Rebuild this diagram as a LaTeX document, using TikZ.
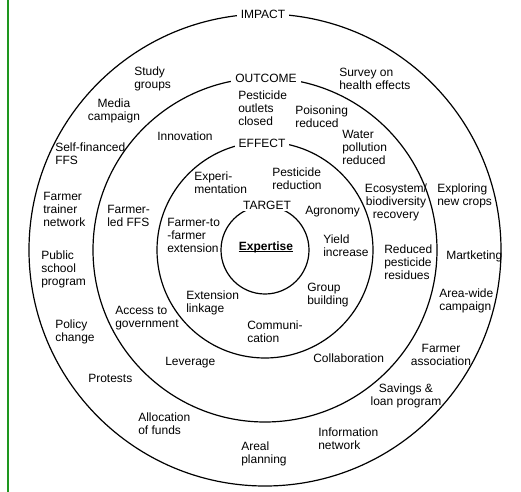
\documentclass[tikz,border=0pt]{standalone}
\usepackage{fontspec}
\setmainfont{Liberation Sans}
\usepackage{tikz}
\definecolor{barcol}{RGB}{30,150,30}

\begin{document}
\begin{tikzpicture}[x=0.75pt,y=-0.75pt,
  every node/.style={font=\fontsize{9}{9.75}\selectfont},
  ring/.style={line width=0.9pt},
  lvl/.style={fill=white,inner xsep=3pt,inner ysep=1pt},
  txt/.style={align=left,anchor=west,inner sep=0pt},
  ctxt/.style={align=center,inner sep=0pt}]
\useasboundingbox (0,0) rectangle (521,492);
\draw[line width=1.5pt,barcol] (8,0) -- (8,492);
\coordinate (c) at (265,250);
\draw[ring] (c) circle[radius=177pt];
\draw[ring] (c) circle[radius=129pt];
\draw[ring] (c) circle[radius=81pt];
\draw[ring] (c) circle[radius=33pt];
\node[lvl] (impact) at (263,14) {IMPACT};
\node[lvl] (outcome) at (266,78) {OUTCOME};
\node[lvl] (effect) at (262,143) {EFFECT};
\node[lvl] (target) at (267,205) {TARGET};
\node[inner sep=0pt] (expertise) at (266,247) {\textbf{Expertise}};
\draw[line width=0.7pt] ([yshift=-1.3pt]expertise.base west) -- ([yshift=-1.3pt]expertise.base east);

\node[txt] (study) at (134,79) {Study\\groups};
\node[ctxt] (media) at (114,110.5) {Media\\campaign};
\node[txt] (selffin) at (55,154) {Self-financed\\FFS};
\node[txt] (trainer) at (43,209) {Farmer\\trainer\\network};
\node[txt] (school) at (41,269) {Public\\school\\program};
\node[txt] (policy) at (55,331.5) {Policy\\change};
\node[txt] (protests) at (88,378) {Protests};
\node[txt] (alloc) at (138,423.5) {Allocation\\of funds};
\node[txt] (areal) at (241,453.5) {Areal\\planning};
\node[txt] (info) at (318,438.5) {Information\\network};
\node[ctxt] (savings) at (406,396) {Savings \&\\loan program};
\node[ctxt] (assoc) at (441,354.5) {Farmer\\association};
\node[txt] (areawide) at (439,301) {Area-wide\\campaign};
\node[txt] (market) at (446,256) {Martketing};
\node[txt] (explore) at (437,196) {Exploring\\new crops};
\node[txt] (survey) at (339,78.5) {Survey on\\health effects};

\node[txt] (outlets) at (238,108) {Pesticide\\outlets\\closed};
\node[txt] (poison) at (295,117) {Poisoning\\reduced};
\node[txt] (water) at (342,147) {Water\\pollution\\reduced};
\node[ctxt] (eco) at (396,202) {Ecosystem/\\biodiversity\\recovery};
\node[txt] (residues) at (384,262) {Reduced\\pesticide\\residues};
\node[txt] (collab) at (313,358) {Collaboration};
\node[txt] (leverage) at (165,363) {Leverage};
\node[txt] (access) at (115,318.5) {Access to\\government};
\node[txt] (ledffs) at (107,216) {Farmer-\\led FFS};
\node[txt] (innov) at (157,136) {Innovation};

\node[txt] (experi) at (194,183) {Experi-\\mentation};
\node[txt] (pestred) at (272,179) {Pesticide\\reduction};
\node[txt] (agro) at (305,212) {Agronomy};
\node[txt] (yield) at (323,246) {Yield\\increase};
\node[txt] (group) at (307,295.5) {Group\\building};
\node[txt] (commun) at (247,332) {Communi-\\cation};
\node[txt] (extlink) at (186,302.5) {Extension\\linkage};
\node[txt] (ftof) at (167,235) {Farmer-to\\-farmer\\extension};
\end{tikzpicture}
\end{document}
